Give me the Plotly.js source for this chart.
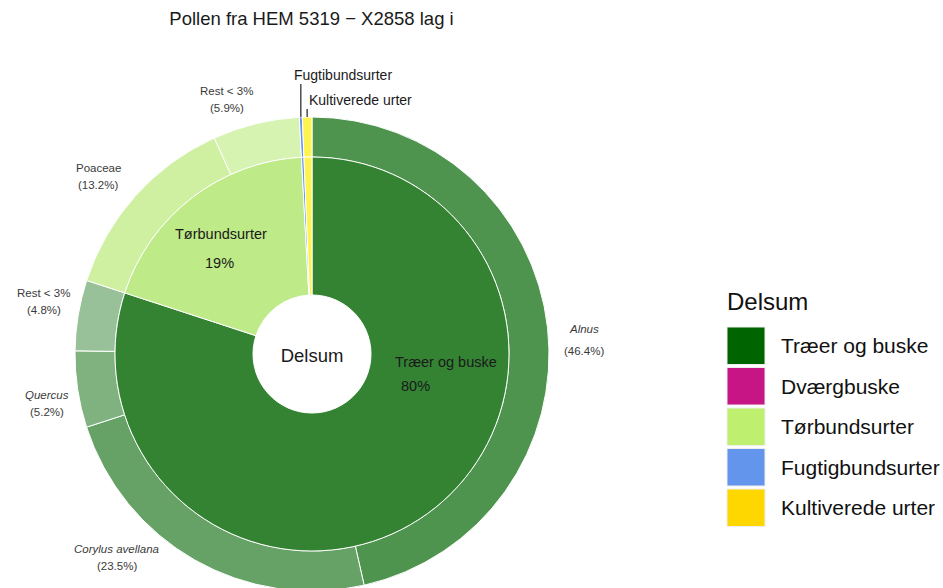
<!DOCTYPE html>
<html><head><meta charset="utf-8">
<script src="https://cdn.plot.ly/plotly-3.0.1.min.js"></script>
<style>html,body{margin:0;padding:0;overflow:hidden;background:#fff}</style>
</head><body><div id="chart" style="width:943px;height:591px"></div>
<script>
// ---------- data ----------
const chartTitle = 'Pollen fra HEM 5319 − X2858 lag i';
const centerLabel = 'Delsum';
const groupLabels = ['Træer og buske', 'Tørbundsurter', 'Fugtibundsurter', 'Kultiverede urter'];
const taxonLabels = ['Alnus', 'Corylus avellana', 'Quercus', 'Rest < 3%', 'Poaceae', 'Rest < 3%', 'Fugtibundsurter', 'Kultiverede urter'];
const taxonGroup = [0, 0, 0, 0, 1, 1, 2, 3];
const taxonValues = [46.4, 23.5, 5.2, 4.8, 13.2, 5.9, 0.2, 0.65];
const taxonItalic = [true, true, true, false, false, false, false, false];
const legendTitle = 'Delsum';
const legendLabels = ['Træer og buske', 'Dværgbuske', 'Tørbundsurter', 'Fugtigbundsurter', 'Kultiverede urter'];
const legendColors = ['#006400', '#C71585', '#BFEF6F', '#6495ED', '#FFD700'];

// ---------- styles / layout ----------
const W = 943, H = 591;
const CX = 312, CY = 354, R_OUT = 237, R_IN = 197, R_HOLE = 59, R_LAB = 272;
const outerColors = ['#4E934E', '#66A266', '#80B280', '#99C199', '#CEF0A0', '#D7F3B2', '#6495ED', '#FFF350'];
const innerColors = ['#338333', '#BEEA87', '#6495ED', '#FFF350'];
const FONT = 'Liberation Sans, Arial, Helvetica, sans-serif';
const labelNudge = {0: [2, 16], 1: [-14, 0], 2: [4, 9], 3: [0, -8], 4: [-11, 4], 5: [-21, 10]};
const innerLabelPos = {0: {name: [446, 362], pct: [415, 386]}, 1: {name: [221, 234], pct: [219, 263]}};
const leaderLabels = {6: {text: [292, 75], top: 84}, 7: {text: [307, 100], top: 109}};

const X = px => px / W;
const Y = py => 1 - py / H;

// group sums
const groupValues = groupLabels.map((g, gi) =>
  taxonValues.reduce((s, v, i) => s + (taxonGroup[i] === gi ? v : 0), 0));
const total = taxonValues.reduce((a, b) => a + b, 0);

const outer = {
  type: 'pie', labels: taxonLabels.map((l, i) => l + ' ' + i), values: taxonValues,
  sort: false, direction: 'clockwise', rotation: 0, hole: R_IN / R_OUT,
  marker: {colors: outerColors, line: {color: '#ffffff', width: 1}},
  textinfo: 'none', showlegend: false,
  hovertext: taxonLabels, hoverinfo: 'text+percent',
  domain: {x: [X(CX - R_OUT), X(CX + R_OUT)], y: [Y(CY + R_OUT), Y(CY - R_OUT)]}
};
const inner = {
  type: 'pie', labels: groupLabels, values: groupValues,
  sort: false, direction: 'clockwise', rotation: 0, hole: R_HOLE / R_IN,
  marker: {colors: innerColors, line: {color: '#ffffff', width: 1}},
  textinfo: 'none', showlegend: false, hoverinfo: 'label+percent',
  title: {text: centerLabel, position: 'middle center', font: {family: FONT, size: 18.5, color: '#1a1a1a'}},
  domain: {x: [X(CX - R_IN), X(CX + R_IN)], y: [Y(CY + R_IN), Y(CY - R_IN)]}
};

const annotations = [];
const shapes = [];

// outer labels
let cum = 0;
taxonValues.forEach((v, i) => {
  const mid = (cum + v / 2) / total * 2 * Math.PI;
  cum += v;
  if (leaderLabels[i]) {
    const ll = leaderLabels[i];
    const lx = CX + R_OUT * Math.sin(mid), ly = CY - R_OUT * Math.cos(mid);
    shapes.push({type: 'line', xref: 'paper', yref: 'paper', x0: X(lx), x1: X(lx), y0: Y(ly), y1: Y(ll.top),
      line: {color: '#333333', width: 1.3}});
    annotations.push({xref: 'paper', yref: 'paper', x: X(ll.text[0]), y: Y(ll.text[1]), xanchor: 'left', yanchor: 'middle',
      text: taxonLabels[i], showarrow: false, font: {family: FONT, size: 14, color: '#1a1a1a'}});
    return;
  }
  let x = CX + R_LAB * Math.sin(mid), y = CY - R_LAB * Math.cos(mid);
  const maxY = 557;
  if (y > maxY) { y = maxY; x = CX + Math.sign(Math.sin(mid)) * Math.sqrt(R_LAB * R_LAB - (maxY - CY) * (maxY - CY)); }
  const n = labelNudge[i] || [0, 0];
  x += n[0]; y += n[1];
  const name = taxonItalic[i] ? '<i>' + taxonLabels[i] + '</i>' : taxonLabels[i];
  const d = i === 0 ? 11 : 8.5;
  annotations.push({xref: 'paper', yref: 'paper', x: X(x), y: Y(y - d), xanchor: 'center', yanchor: 'middle',
    text: name, showarrow: false, font: {family: FONT, size: 11.5, color: '#3a3a3a'}});
  annotations.push({xref: 'paper', yref: 'paper', x: X(x), y: Y(y + d), xanchor: 'center', yanchor: 'middle',
    text: '(' + v.toFixed(1) + '%)', showarrow: false, font: {family: FONT, size: 11.5, color: '#3a3a3a'}});
});

// inner labels
groupValues.forEach((v, gi) => {
  const p = innerLabelPos[gi];
  if (!p) return;
  annotations.push({xref: 'paper', yref: 'paper', x: X(p.name[0]), y: Y(p.name[1]), xanchor: 'center', yanchor: 'middle',
    text: groupLabels[gi], showarrow: false, font: {family: FONT, size: 14.5, color: '#1a1a1a'}});
  annotations.push({xref: 'paper', yref: 'paper', x: X(p.pct[0]), y: Y(p.pct[1]), xanchor: 'center', yanchor: 'middle',
    text: Math.round(v / total * 100) + '%', showarrow: false, font: {family: FONT, size: 14.5, color: '#1a1a1a'}});
});

// legend
const LX = 727, LKW = 38, LKH = 37.5, LTOP = 327, LSTEP = 40.5;
annotations.push({xref: 'paper', yref: 'paper', x: X(LX - 2), y: Y(301), xanchor: 'left', yanchor: 'middle',
  text: legendTitle, showarrow: false, font: {family: FONT, size: 24, color: '#111111'}});
legendLabels.forEach((lab, i) => {
  const top = LTOP + i * LSTEP;
  shapes.push({type: 'rect', xref: 'paper', yref: 'paper', x0: X(LX), x1: X(LX + LKW), y0: Y(top + LKH), y1: Y(top),
    fillcolor: legendColors[i], line: {color: '#eeeeee', width: 1}});
  annotations.push({xref: 'paper', yref: 'paper', x: X(779), y: Y(top + LKH / 2), xanchor: 'left', yanchor: 'middle',
    text: lab, showarrow: false, font: {family: FONT, size: 21, color: '#111111'}});
});

const layout = {
  width: W, height: H, margin: {l: 0, r: 0, t: 0, b: 0},
  paper_bgcolor: '#ffffff', plot_bgcolor: '#ffffff',
  title: {text: chartTitle, x: 311.5 / W, xanchor: 'center', y: 1 - 19 / H, yanchor: 'middle',
    font: {family: FONT, size: 18.5, color: '#1a1a1a'}},
  showlegend: false,
  annotations: annotations, shapes: shapes
};

Plotly.newPlot('chart', [outer, inner], layout, {displayModeBar: false, staticPlot: true});
</script>
</body></html>
